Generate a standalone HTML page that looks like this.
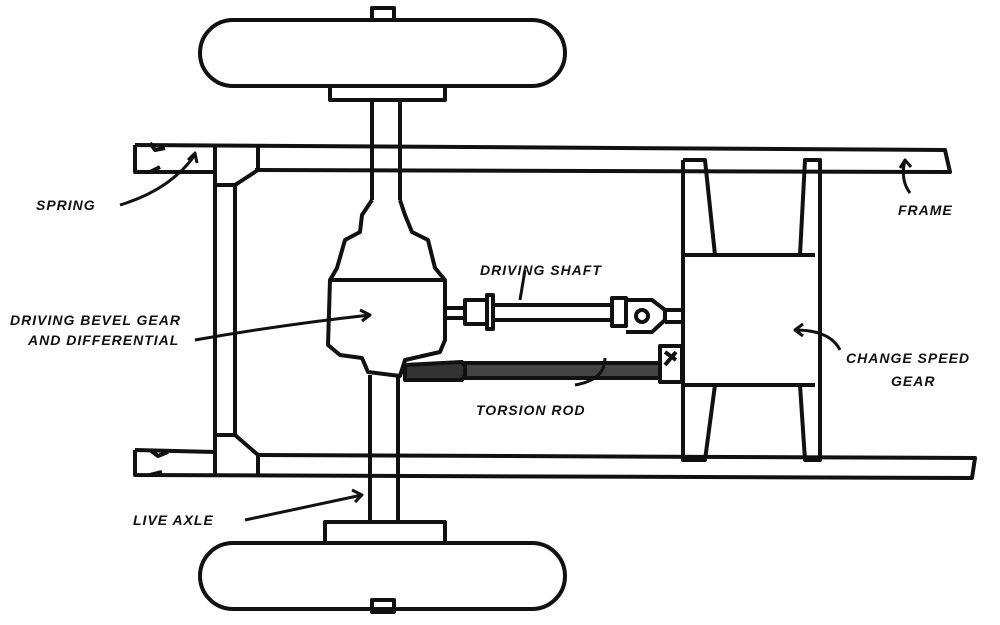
<!DOCTYPE html>
<html><head><style>html,body{margin:0;padding:0;background:#fff;}svg{display:block}
text{font-family:"Liberation Sans",sans-serif;font-weight:900;font-style:italic;font-size:14px;fill:#111;letter-spacing:1px}</style></head>
<body>
<svg width="1000" height="625" viewBox="0 0 1000 625" xmlns="http://www.w3.org/2000/svg">
<g fill="none" stroke="#111" stroke-width="4" stroke-linejoin="round">
<rect x="200" y="20" width="365" height="66" rx="33" fill="#fff"/>
<rect x="330" y="86" width="115" height="14"/>
<rect x="372" y="8" width="22" height="12"/>
<rect x="200" y="543" width="365" height="66" rx="33" fill="#fff"/>
<rect x="325" y="522" width="120" height="21"/>
<rect x="372" y="600" width="22" height="12"/>
<line x1="372" y1="100" x2="372" y2="200"/><line x1="400" y1="100" x2="400" y2="200"/>
<line x1="370" y1="375" x2="370" y2="522"/><line x1="398" y1="375" x2="398" y2="522"/>
<path d="M135 145 L945 150 L950 172 L255 170 M135 145 L135 172 L215 172"/>
<path d="M135 450 L215 452 M258 455 L975 458 L972 478 L135 475 L135 450"/>
<path d="M150 143 L155 150 L165 148 M150 172 L160 167 M150 450 L158 456 L168 452 M150 475 L162 472"/>
<path d="M215 145 L215 475 M235 185 L235 435 M258 145 L258 170 L235 185 M258 475 L258 455 L235 435 M215 185 L235 185 M215 435 L235 435"/>
<path d="M372 200 L362 215 L360 232 L345 240 L337 268 L330 280 L328 345 L340 355 L362 358 L368 372 L400 376 L405 360 L440 352 L445 340 L445 280 L435 268 L428 240 L412 232 L405 215 L400 200"/>
<path d="M330 280 L445 280"/>
<path d="M445 308 L465 308 L465 318 L445 318"/>
<rect x="465" y="300" width="22" height="24"/><rect x="487" y="295" width="6" height="34"/>
<path d="M493 305 L612 305 M493 320 L612 320"/>
<rect x="612" y="298" width="14" height="28"/>
<path d="M626 300 L652 300 L665 310 L665 320 L652 332 L626 332"/>
<circle cx="642" cy="316" r="6"/>
<path d="M665 310 L683 310 M665 322 L683 322"/>
<path d="M405 365 L462 362 L468 370 L462 380 L405 380 Z" fill="#333"/>
<rect x="465" y="363" width="195" height="15" fill="#444"/>
<rect x="660" y="346" width="22" height="36"/>
<path d="M665 352 L676 360 M676 352 L665 365"/>
<path d="M683 160 L705 160 L715 255 M683 160 L683 460 L705 460 L715 385"/>
<path d="M800 255 L805 160 L820 160 L820 460 L805 460 L800 385"/>
<path d="M683 255 L815 255 M683 385 L815 385"/>
<path d="M120 205 Q170 190 195 155 M188 160 L195 153 L197 163" stroke-width="3"/>
<path d="M195 340 Q280 325 370 315 M360 310 L370 315 L362 321" stroke-width="3"/>
<path d="M525 270 L520 300" stroke-width="3"/>
<path d="M575 385 Q605 380 605 358" stroke-width="3"/>
<path d="M840 350 Q830 330 795 330 M803 324 L795 330 L803 336" stroke-width="3"/>
<path d="M910 193 Q900 180 905 160 M900 168 L905 160 L911 167" stroke-width="3"/>
<path d="M245 520 L362 495 M352 490 L362 495 L355 502" stroke-width="3"/>
</g>
<text x="36" y="210">SPRING</text>
<text x="10" y="325">DRIVING BEVEL GEAR</text>
<text x="28" y="345">AND DIFFERENTIAL</text>
<text x="480" y="275">DRIVING SHAFT</text>
<text x="476" y="415">TORSION ROD</text>
<text x="898" y="215">FRAME</text>
<text x="846" y="363">CHANGE SPEED</text>
<text x="891" y="386">GEAR</text>
<text x="133" y="525">LIVE AXLE</text>
</svg>
</body></html>
